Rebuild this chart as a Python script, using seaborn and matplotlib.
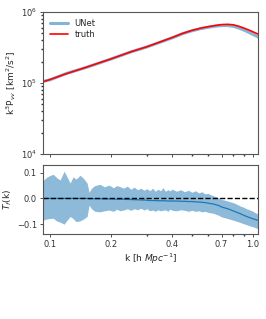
import numpy as np
import pandas as pd
import matplotlib
matplotlib.use("Agg")
import matplotlib.pyplot as plt
import matplotlib.ticker as mticker
import seaborn as sns

# ---- data ----
k_pk = [0.092, 0.1, 0.12, 0.15, 0.2, 0.25, 0.3, 0.35, 0.4, 0.45, 0.5, 0.55,
        0.6, 0.65, 0.7, 0.75, 0.8, 0.85, 0.9, 0.95, 1.0, 1.058]
pk_truth = [1.04e5, 1.12e5, 1.35e5, 1.66e5, 2.19e5, 2.75e5, 3.24e5, 3.80e5,
            4.37e5, 5.00e5, 5.50e5, 5.90e5, 6.20e5, 6.45e5, 6.65e5, 6.70e5,
            6.60e5, 6.30e5, 5.95e5, 5.60e5, 5.25e5, 4.90e5]
pk_unet = [1.05e5, 1.11e5, 1.36e5, 1.65e5, 2.18e5, 2.74e5, 3.22e5, 3.77e5,
           4.33e5, 4.95e5, 5.43e5, 5.81e5, 6.09e5, 6.30e5, 6.44e5, 6.45e5,
           6.29e5, 5.97e5, 5.58e5, 5.20e5, 4.84e5, 4.48e5]

k_tf = [0.0924, 0.0960, 0.0990, 0.1035, 0.1080, 0.1120, 0.1172, 0.1210, 0.1254,
        0.1298, 0.1340, 0.1405, 0.1460, 0.1521, 0.1556, 0.1600, 0.1660, 0.1763,
        0.1850, 0.1950, 0.2050, 0.2130, 0.2212, 0.2300, 0.2400, 0.2500, 0.2600,
        0.2700, 0.2800, 0.2900, 0.3000, 0.31, 0.32, 0.33, 0.34, 0.35, 0.36, 0.37,
        0.38, 0.39, 0.40, 0.42, 0.44, 0.46, 0.48, 0.50, 0.52, 0.54, 0.56, 0.58,
        0.60, 0.62, 0.64, 0.66, 0.68, 0.70, 0.72, 0.75, 0.78, 0.81, 0.84, 0.87,
        0.90, 0.93, 0.96, 1.00, 1.03, 1.058]
tf_mean = [0.000, 0.000, 0.000, 0.000, 0.000, 0.000, 0.000, 0.000, 0.000,
           0.000, 0.000, 0.000, 0.000, 0.000, -0.001, -0.001, -0.001, -0.001,
           -0.002, -0.002, -0.002, -0.003, -0.003, -0.003, -0.004, -0.004, -0.005,
           -0.005, -0.006, -0.006, -0.007, -0.008, -0.008, -0.008, -0.009, -0.009,
           -0.009, -0.009, -0.010, -0.010, -0.010, -0.010, -0.011, -0.011, -0.012,
           -0.012, -0.013, -0.014, -0.015, -0.016, -0.018, -0.020, -0.022, -0.025,
           -0.028, -0.033, -0.036, -0.040, -0.045, -0.050, -0.055, -0.060, -0.065,
           -0.070, -0.074, -0.079, -0.082, -0.085]
tf_upper = [0.070, 0.082, 0.088, 0.094, 0.080, 0.072, 0.106, 0.085, 0.060,
            0.084, 0.075, 0.090, 0.078, 0.060, 0.024, 0.040, 0.050, 0.055,
            0.045, 0.052, 0.042, 0.050, 0.046, 0.040, 0.048, 0.036, 0.044,
            0.034, 0.040, 0.032, 0.038, 0.030, 0.040, 0.028, 0.036, 0.030,
            0.042, 0.028, 0.034, 0.030, 0.036, 0.028, 0.034, 0.026, 0.032,
            0.024, 0.030, 0.022, 0.026, 0.018, 0.020, 0.014, 0.010, 0.006,
            0.002, -0.004, -0.006, -0.010, -0.014, -0.018, -0.024, -0.030, -0.034,
            -0.040, -0.044, -0.050, -0.056, -0.060]
tf_lower = [-0.084, -0.080, -0.078, -0.077, -0.088, -0.092, -0.100, -0.085, -0.070,
            -0.078, -0.090, -0.087, -0.080, -0.070, -0.026, -0.040, -0.050, -0.052,
            -0.048, -0.045, -0.050, -0.042, -0.048, -0.045, -0.040, -0.046, -0.040,
            -0.044, -0.038, -0.045, -0.040, -0.048, -0.045, -0.050, -0.044, -0.048,
            -0.046, -0.044, -0.050, -0.042, -0.046, -0.048, -0.044, -0.046, -0.050,
            -0.046, -0.050, -0.048, -0.052, -0.050, -0.054, -0.056, -0.058, -0.062,
            -0.066, -0.072, -0.074, -0.078, -0.082, -0.086, -0.090, -0.094, -0.098,
            -0.102, -0.106, -0.110, -0.114, -0.117]

xticks = [0.1, 0.2, 0.4, 0.7, 1.0]
xticklabels = ["0.1", "0.2", "0.4", "0.7", "1.0"]
xminor = [0.3, 0.5, 0.6, 0.8, 0.9]

# ---- style ----
sns.set_theme(style="ticks")
plt.rcParams.update({
    "font.family": ["DejaVu Sans"],
    "font.size": 6,
    "axes.labelsize": 6.5,
    "xtick.labelsize": 6,
    "ytick.labelsize": 6,
    "axes.edgecolor": "#555555",
    "axes.linewidth": 0.8,
    "xtick.major.size": 2.5,
    "ytick.major.size": 2.5,
    "xtick.minor.size": 1.5,
    "ytick.minor.size": 1.5,
    "xtick.major.width": 0.6,
    "ytick.major.width": 0.6,
    "xtick.color": "#333333",
    "ytick.color": "#333333",
    "xtick.major.pad": 2,
    "ytick.major.pad": 2,
})

fig = plt.figure(figsize=(2.66, 3.19), dpi=100)
ax1 = fig.add_axes([0.1617, 0.5172, 0.808, 0.4452])
ax2 = fig.add_axes([0.1617, 0.2665, 0.808, 0.2163])

df_pk = pd.DataFrame({"k": k_pk * 2,
                      "P": pk_unet + pk_truth,
                      "model": ["UNet"] * len(k_pk) + ["truth"] * len(k_pk)})

blue = "#1f77b4"
sns.lineplot(data=df_pk[df_pk.model == "UNet"], x="k", y="P", ax=ax1,
             color=blue, alpha=0.55, lw=2.2, label="UNet")
sns.lineplot(data=df_pk[df_pk.model == "truth"], x="k", y="P", ax=ax1,
             color="red", lw=1.2, label="truth")
ax1.set_xscale("log")
ax1.set_yscale("log")
ax1.set_ylim(1e4, 1e6)
ax1.set_xlim(0.0922, 1.058)
ax1.set_xlabel("")
ax1.set_ylabel(r"k$^3$P$_{vv}$ [km$^2$/s$^2$]", labelpad=2)
ax1.xaxis.set_major_locator(mticker.FixedLocator(xticks))
ax1.xaxis.set_minor_locator(mticker.FixedLocator(xminor))
ax1.xaxis.set_major_formatter(mticker.NullFormatter())
ax1.xaxis.set_minor_formatter(mticker.NullFormatter())
ax1.legend(loc="upper left", frameon=False, fontsize=6, handlelength=2.2,
           borderaxespad=0.4, labelspacing=0.3)

df_tf = pd.DataFrame({"k": k_tf, "mean": tf_mean, "up": tf_upper, "lo": tf_lower})
ax2.fill_between(df_tf["k"], df_tf["lo"], df_tf["up"], color=blue, alpha=0.5, lw=0)
sns.lineplot(data=df_tf, x="k", y="mean", ax=ax2, color=blue, lw=0.9)
ax2.axhline(0, color="black", ls="--", lw=1)
ax2.set_xscale("log")
ax2.set_xlim(0.0922, 1.058)
ax2.set_ylim(-0.138, 0.13)
ax2.set_yticks([-0.1, 0.0, 0.1])
ax2.set_yticklabels(["\u22120.1", "0.0", "0.1"])
ax2.xaxis.set_major_locator(mticker.FixedLocator(xticks))
ax2.xaxis.set_major_formatter(mticker.FixedFormatter(xticklabels))
ax2.xaxis.set_minor_locator(mticker.FixedLocator(xminor))
ax2.xaxis.set_minor_formatter(mticker.NullFormatter())
ax2.set_xlabel(r"k [h $Mpc^{-1}$]", labelpad=2)
ax2.set_ylabel(r"$T_f$(k)", labelpad=2)

fig.savefig("out.png", dpi=100)
